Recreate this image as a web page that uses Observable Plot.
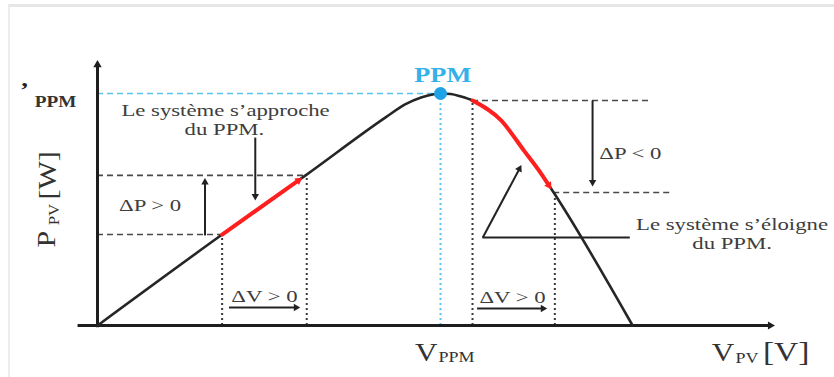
<!DOCTYPE html>
<html><head><meta charset="utf-8">
<script src="https://cdn.jsdelivr.net/npm/d3@7"></script>
<script src="https://cdn.jsdelivr.net/npm/@observablehq/plot@0.6"></script>
<style>
html,body{margin:0;padding:0;background:#fff;}
#wrap{position:relative;width:834px;height:377px;overflow:hidden;}
#frame{position:absolute;left:8px;top:4px;right:-6px;bottom:-6px;border-top:3px solid #e6e6e6;border-left:2px solid #ededed;}
#wrap svg{position:absolute;left:0;top:0;background:transparent;}
</style></head><body><div id="wrap"><div id="frame"></div></div>
<script>
// ---- data (V in volts-like units, P in % of P_PPM) ----
const curveV = [0, 10.9, 18.2, 25.2, 26.9, 28.3, 29.3, 30, 30.9, 31.8, 32.8, 35.3, 37.3, 38.8, 39.9, 46.8];
const curveP = [0, 39.2, 64.7, 89.7, 95.3, 98.3, 99.6, 100, 99.8, 98.7, 97.0, 88.4, 75.4, 65.5, 57.3, 0];
const vPPM = 30, pPPM = 100;
// operating points (before / after perturbation)
const leftStep = {v0: 10.9, p0: 39.2, v1: 18.2, p1: 64.7};
const rightStep = {v0: 32.8, p0: 97.0, v1: 39.9, p1: 57.3};
// dashed guide extents
const dashH = [
  {p: 64.7, v1: 0, v2: 18.2}, {p: 39.2, v1: 0, v2: 10.9},
  {p: 97.0, v1: 32.8, v2: 48.5}, {p: 57.3, v1: 39.9, v2: 50.3}
];
const dotV = [
  {v: 10.9, p: 39.2}, {v: 18.3, p: 64.7}, {v: 32.8, p: 97.0}, {v: 40.0, p: 57.3}
];
// black annotation arrows (from -> to)
const arrows = [
  {x1: 9.4, y1: 38.8, x2: 9.4, y2: 64.9},
  {x1: 13.8, y1: 81.0, x2: 13.8, y2: 52.6},
  {x1: 11.5, y1: 7.8, x2: 18.0, y2: 7.8},
  {x1: 33.2, y1: 7.3, x2: 39.6, y2: 7.3},
  {x1: 43.3, y1: 97.0, x2: 43.3, y2: 58.6},
  {x1: 33.7, y1: 37.9, x2: 37.2, y2: 70.3}
];
const callout = [{x1: 33.7, x2: 46.6, y: 37.9}];
// axes extents
const xAxisV = [-1.7, 59.6];
const yAxisP = [-1, 116.4];
// labels
const notes = [
  {v: 11.2, p: 92.9, t: "Le système s’approche"},
  {v: 11.1, p: 84.4, t: "du PPM."},
  {v: 4.6, p: 51.7, t: "ΔP > 0"},
  {v: 14.6, p: 12.5, t: "ΔV > 0"},
  {v: 36.3, p: 12.1, t: "ΔV > 0"},
  {v: 46.6, p: 74.1, t: "ΔP < 0"},
  {v: 55.5, p: 43.7, t: "Le système s’éloigne"},
  {v: 55.5, p: 35.2, t: "du PPM."}
];
const ppmLabel = [{v: 30.2, p: 107.8, t: "PPM"}];
const pLabelMain = [{v: -3.67, p: 96.6, t: "PPM"}];
const pLabelMark = [{v: -6.4, p: 101.7, t: "’"}];
const xBig = [{v: 29.74, p: -11.6, t: "V"}, {v: 55.7, p: -11.6, t: "V"}];
const xUnit = [{v: 58.2, p: -11.6, t: "[V]"}];
const xSub = [{v: 29.83, p: -13.8, t: "PPM"}, {v: 55.8, p: -14.0, t: "PV"}];
const yBig = [{v: -4.46, p: 33.6, t: "P"}, {v: -4.37, p: 54.3, t: "[W]"}];
const ySub = [{v: -3.76, p: 43.2, t: "PV"}];

// ---- scales ----
const W = 834, H = 377;
const xDomain = [-8.484, 64.46], yDomain = [-22.41, 140.09];
const sx = Plot.scale({x: {type: "linear", domain: xDomain, range: [0, W]}});
const sy = Plot.scale({y: {type: "linear", domain: yDomain, range: [H, 0]}});

const curve = curveV.map((v, i) => ({v, p: curveP[i]}));

// arrow head: triangle centroid + rotation, and shaft end
function head(x1, y1, x2, y2, len) {
  const X1 = sx.apply(x1), Y1 = sy.apply(y1), X2 = sx.apply(x2), Y2 = sy.apply(y2);
  const dx = X2 - X1, dy = Y2 - Y1, d = Math.hypot(dx, dy), ux = dx / d, uy = dy / d;
  return {
    x: sx.invert(X2 - ux * len * 2 / 3), y: sy.invert(Y2 - uy * len * 2 / 3),
    sx: sx.invert(X2 - ux * len * 0.7), sy: sy.invert(Y2 - uy * len * 0.7),
    rotate: Math.atan2(dx, -dy) * 180 / Math.PI, r: len / 2.333
  };
}
const blackHeads = arrows.map(a => ({...a, ...head(a.x1, a.y1, a.x2, a.y2, 11)}));
const axisHeads = [
  head(0, yAxisP[0], 0, yAxisP[1], 14),
  head(xAxisV[0], 0, xAxisV[1], 0, 13)
];
// red steps
const redLeftHead = head(leftStep.v0, leftStep.p0, leftStep.v1, leftStep.p1, 13);
const redLeft = [{v: leftStep.v0, p: leftStep.p0}, {v: redLeftHead.sx, p: redLeftHead.sy}];
const rIdx0 = curveV.indexOf(rightStep.v0), rIdx1 = curveV.indexOf(rightStep.v1);
const redRightHead = head(curveV[rIdx1 - 1], curveP[rIdx1 - 1], rightStep.v1, rightStep.p1, 13);
const redRight = curve.slice(rIdx0, rIdx1).concat([{v: redRightHead.sx, p: redRightHead.sy}]);

const serif = "Liberation Serif, Times New Roman, serif";
const txt = "#3d3d3d";

const chart = Plot.plot({
  width: W, height: H,
  marginTop: 0, marginRight: 0, marginBottom: 0, marginLeft: 0,
  x: {domain: xDomain, axis: null},
  y: {domain: yDomain, axis: null},
  style: {background: "transparent", fontFamily: serif},
  marks: [
    // guides
    Plot.ruleY([pPPM], {x1: 0, x2: vPPM, stroke: "#5cc3ef", strokeWidth: 1.6, strokeDasharray: "6,4"}),
    Plot.ruleX([vPPM], {y1: 0, y2: pPPM, stroke: "#5cc3ef", strokeWidth: 2, strokeDasharray: "2,3"}),
    Plot.ruleY(dashH, {y: "p", x1: "v1", x2: "v2", stroke: "#4a4a4a", strokeWidth: 1.6, strokeDasharray: "6,4"}),
    Plot.ruleX(dotV, {x: "v", y1: 0, y2: "p", stroke: "#3a3a3a", strokeWidth: 2, strokeDasharray: "2,3"}),
    // axes
    Plot.ruleY([0], {x1: xAxisV[0], x2: axisHeads[1].sx, stroke: "#1e1e1e", strokeWidth: 3}),
    Plot.ruleX([0], {y1: yAxisP[0], y2: axisHeads[0].sy, stroke: "#1e1e1e", strokeWidth: 3}),
    Plot.dot(axisHeads, {x: "x", y: "y", rotate: "rotate", r: d => d.r, symbol: "triangle", fill: "#1e1e1e", stroke: null}),
    // P-V curve
    Plot.line(curve, {x: "v", y: "p", curve: "monotone-x", stroke: "#262626", strokeWidth: 2.6}),
    // red perturbation steps
    Plot.line(redLeft, {x: "v", y: "p", stroke: "#ff1f1f", strokeWidth: 4}),
    Plot.line(redRight, {x: "v", y: "p", curve: "monotone-x", stroke: "#ff1f1f", strokeWidth: 4}),
    Plot.dot([redLeftHead, redRightHead], {x: "x", y: "y", rotate: "rotate", r: d => d.r, symbol: "triangle", fill: "#ff1f1f", stroke: null}),
    // black arrows
    Plot.link(blackHeads, {x1: "x1", y1: "y1", x2: "sx", y2: "sy", stroke: "#222", strokeWidth: 2}),
    Plot.ruleY(callout, {y: "y", x1: "x1", x2: "x2", stroke: "#222", strokeWidth: 2}),
    Plot.dot(blackHeads, {x: "x", y: "y", rotate: "rotate", r: d => d.r, symbol: "triangle", fill: "#222", stroke: null}),
    // PPM point
    Plot.dot([{v: vPPM, p: pPPM}], {x: "v", y: "p", r: 6.5, fill: "#1fa3e6", stroke: null}),
    // texts
    Plot.text(ppmLabel, {x: "v", y: "p", text: "t", fill: "#35b0e8", fontSize: 22, fontWeight: "bold"}),
    Plot.text(notes, {x: "v", y: "p", text: "t", fill: txt, fontSize: 17.5, ariaLabel: "notes"}),
    Plot.text(pLabelMain, {x: "v", y: "p", text: "t", fill: "#333", fontSize: 16, fontWeight: "bold"}),
    Plot.text(pLabelMark, {x: "v", y: "p", text: "t", fill: "#222", fontSize: 22, fontWeight: "bold"}),
    Plot.text(xBig, {x: "v", y: "p", text: "t", fill: "#333", fontSize: 26, textAnchor: "end"}),
    Plot.text(xUnit, {x: "v", y: "p", text: "t", fill: "#333", fontSize: 28, textAnchor: "start"}),
    Plot.text(xSub, {x: "v", y: "p", text: "t", fill: "#333", fontSize: 15, textAnchor: "start"}),
    Plot.text(yBig, {x: "v", y: "p", text: "t", fill: "#333", fontSize: 25, rotate: -90, textAnchor: "start"}),
    Plot.text(ySub, {x: "v", y: "p", text: "t", fill: "#333", fontSize: 14, rotate: -90, textAnchor: "start"})
  ]
});
// horizontally widen glyphs as in the reference
chart.querySelectorAll("text").forEach(t => {
  const tr = t.getAttribute("transform");
  const isNote = t.closest('[aria-label="notes"]') || t.textContent.startsWith("Le ") ||
    t.textContent.startsWith("du ") || t.textContent.startsWith("Δ");
  const k = isNote ? 1.3 : 1.2;
  if (tr) t.setAttribute("transform", tr + ` scale(${k},1)`);
});
document.getElementById("wrap").appendChild(chart);
</script></body></html>
